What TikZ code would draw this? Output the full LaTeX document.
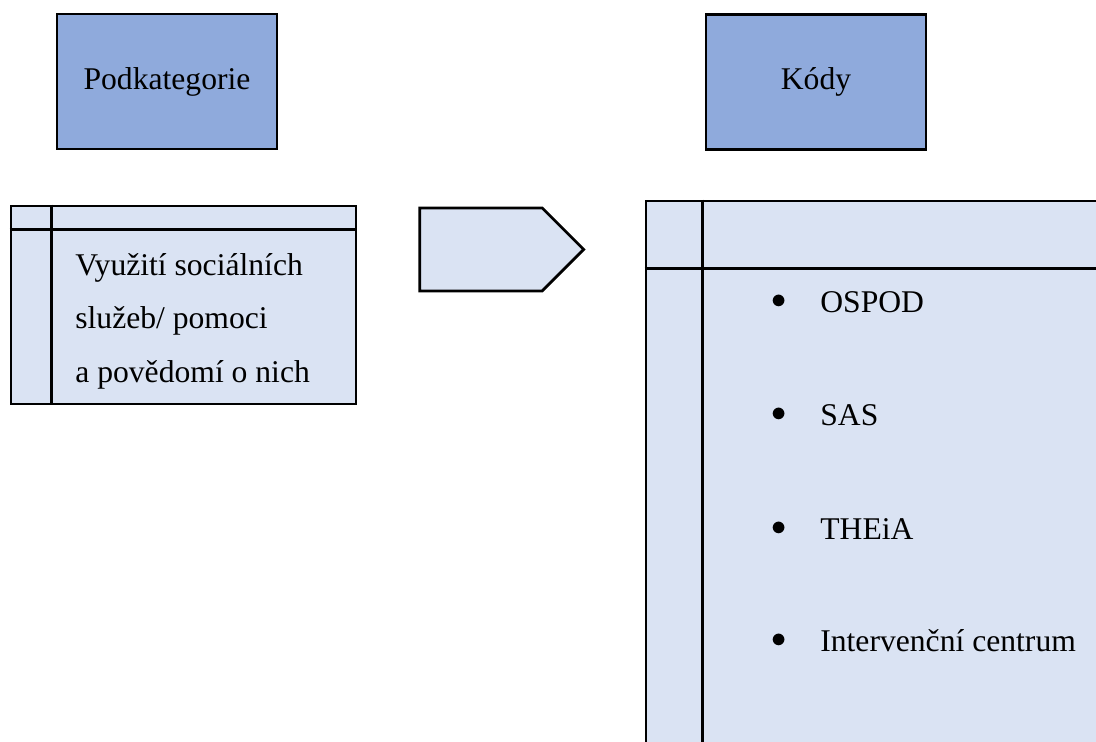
\documentclass[tikz,border=0pt]{standalone}
\usepackage{fontspec}
\setmainfont{Liberation Serif}
\usepackage{xcolor}
\usepackage{tikz}
\usetikzlibrary{shapes.symbols,positioning}

\definecolor{headblue}{HTML}{8FAADC}
\definecolor{paleblue}{HTML}{DAE3F3}

\begin{document}
\begin{tikzpicture}[x=0.02cm,y=-0.02cm,
    font=\fontsize{18}{30.5}\selectfont,
    headbox/.style={draw,line width=1.6pt,fill=headblue,minimum width=4.4cm,minimum height=2.7cm},
    tablebox/.style={draw,line width=1.5pt,fill=paleblue,inner sep=0pt},
    tableline/.style={line width=1.5pt},
    item/.style={anchor=west,inner sep=0pt}]
    \clip (0,0) rectangle (1096,742);

    % Headings
    \node[headbox] (subcat) at (167,81.5) {Podkategorie};
    \node[headbox] (codes) at (816,82) {Kódy};

    % Subcategory table
    \node[tablebox,minimum width=6.9cm,minimum height=3.96cm] (subtab) at (183.5,305) {};
    \draw[tableline] ([yshift=-0.5cm]subtab.north west) -- ([yshift=-0.5cm]subtab.north east);
    \draw[tableline] ([xshift=0.84cm]subtab.north west) -- ([xshift=0.84cm]subtab.south west);
    \node[item,align=left] (subtext) at (75,321) {Využití sociálních\\služeb/ pomoci\\a povědomí o nich};

    % Arrow
    \node[signal,signal to=east,signal pointer angle=90,draw,line width=1.6pt,fill=paleblue,
          minimum width=3.28cm,minimum height=1.66cm,inner sep=0pt] (arrow) at (481,249.5) {};

    % Codes table
    \node[tablebox,minimum width=9.68cm,minimum height=11.38cm] (codetab) at (888,485.5) {};
    \draw[tableline] ([yshift=-1.38cm]codetab.north west) -- ([yshift=-1.38cm]codetab.north east);
    \draw[tableline] ([xshift=1.16cm]codetab.north west) -- ([xshift=1.16cm]codetab.south west);

    % Bullet items
    \node at (779,302) (b1) {$\bullet$};
    \node[item] (ospod) at (820,302) {OSPOD};
    \node at (779,415) (b2) {$\bullet$};
    \node[item] (sas) at (820,415) {SAS};
    \node at (779,529) (b3) {$\bullet$};
    \node[item] (theia) at (820,529) {THEiA};
    \node at (779,641) (b4) {$\bullet$};
    \node[item] (ic) at (820,641) {Intervenční centrum};
\end{tikzpicture}
\end{document}
